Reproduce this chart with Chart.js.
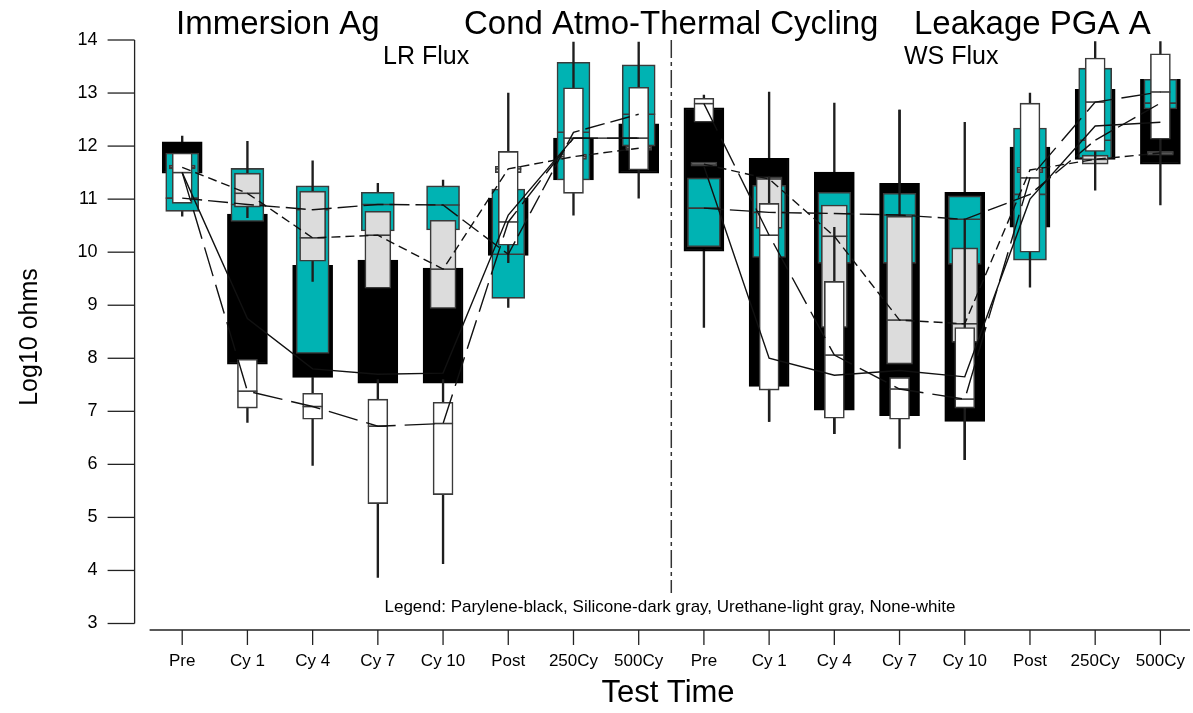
<!DOCTYPE html>
<html><head><meta charset="utf-8">
<script src="https://cdn.jsdelivr.net/npm/chart.js@4.4.1/dist/chart.umd.min.js"></script>
<style>html,body{margin:0;padding:0;background:#fff;}#wrap{width:1193px;height:713px;position:relative;}</style>
</head><body><div id="wrap"><canvas id="c"></canvas></div>
<script>
const categories = ['Pre','Cy 1','Cy 4','Cy 7','Cy 10','Post','250Cy','500Cy','Pre','Cy 1','Cy 4','Cy 7','Cy 10','Post','250Cy','500Cy'];
const yTicks = [3,4,5,6,7,8,9,10,11,12,13,14];

// Parylene (black)
const paryleneLow    = [11.49, 7.89, 7.64, 7.53, 7.53, 9.94, 11.36, 11.49, 10.02, 7.47, 7.02, 6.92, 6.81, 10.47, 11.75, 11.66];
const paryleneHigh   = [12.08,10.72, 9.75, 9.85, 9.70,11.02, 12.15, 12.42, 12.72,11.77,11.51,11.30,11.13, 11.98, 13.07, 13.26];
const paryleneMedian = [11.50, 8.75, 7.80, 7.70, 7.72,10.70, 12.15, 12.15, 11.62, 8.00, 7.68, 7.77, 7.65, 11.00, 12.38, 12.45];
const paryleneWhLow  = [10.68, null, null, null, null, null, null, null, 8.58, 6.81, 6.58, 6.30, 6.09, null, null, null];
const paryleneWhHigh = [12.19, null, null, null, null, null, null, null,12.96,13.02,12.81,12.68,12.45, null, null, null];

// Silicone (dark gray, drawn teal)
const siliconeLow    = [10.77,10.58, 8.09,10.40,10.42, 9.13, 11.36, 12.00, 10.10, 9.90, 9.79, 9.79, 9.77, 9.85, 11.77, 12.70];
const siliconeHigh   = [11.87,11.58,11.25,11.13,11.25,11.19, 13.58, 13.53, 11.40,11.26,11.13,11.11,11.06, 12.34, 13.47, 13.26];
const siliconeMedian = [11.02,10.90,10.80,10.90,10.89, 9.96, 12.26, 12.60, 10.83,10.75,10.73,10.70,10.62, 11.09, 12.11, 12.81];
const siliconeWhLow  = [null, null, null,10.90,10.90, 8.96, null, null, null, null, null, null, null, null, null, null];
const siliconeWhHigh = [null, null, null,11.30,11.36, 9.50, null, null, null, null, null, null, null, null, null, null];

// Urethane (light gray)
const urethaneLow    = [11.57,10.85, 9.83, 9.32, 8.94,11.50, 11.75, 11.92, 11.62,10.45, 8.58, 7.89, 8.30, 11.50, 11.66, 11.83];
const urethaneHigh   = [11.64,11.49,11.15,10.77,10.60,11.62, 11.85, 12.00, 11.70,11.42,10.89,10.68,10.08, 11.60, 11.83, 11.90];
const urethaneMedian = [11.60,11.11,10.27,10.32, 9.68,11.57, 11.80, 11.96, 11.66,11.38,10.30, 8.72, 8.65, 11.55, 11.75, 11.87];
const urethaneWhLow  = [null,10.65, 9.45, null, null, null, null, null, null, null, null,10.68, null, null, null, null];
const urethaneWhHigh = [null,12.09,11.72, null, null, null, null, null, null, null, null,12.68, null, null, null, null];

// None (white)
const noneLow    = [10.92, 7.06, 6.85, 5.26, 5.43,10.13, 11.11, 11.55, 12.45, 7.40, 6.87, 6.85, 7.06, 10.00, 11.90, 12.13];
const noneHigh   = [11.87, 7.98, 7.34, 7.23, 7.17,11.90, 13.10, 13.11, 12.90,10.92, 9.45, 7.64, 8.58, 12.81, 13.66, 13.74];
const noneMedian = [11.50, 7.38, 7.09, 6.72, 6.77,10.57, 12.15, 12.15, 12.80,10.32, 8.06, 7.42, 7.23, 11.40, 12.83, 13.02];
const noneWhLow  = [null, 6.79, 5.98, 3.87, 4.13, 9.80, 10.70, 11.02, null, 6.81, 6.58, null, 6.09, 9.34, 11.17, 10.89];
const noneWhHigh = [null, 7.98, 7.64, 7.60, 7.60,13.00, 13.96, 13.96, null,11.42,10.47, null,10.60, 13.00, 13.97, 13.97];

const FONT = '"Liberation Sans", Arial, Helvetica, sans-serif';

function pairs(lo, hi){ return lo.map((v,i)=> (v==null || hi[i]==null) ? null : [v, hi[i]]); }
function half(arr, part){ return arr.map((v,i)=> ((part===0) ? i<8 : i>=8) ? v : null); }

function boxDs(label, lo, hi, med, fill, border, thick, order, drawMedian){
  return {type:'bar', label, data:pairs(lo,hi), medians:med, drawMedian, backgroundColor:fill, borderColor:border,
    borderWidth:1.6, borderSkipped:false, barThickness:thick, grouped:false, order, isBox:true};
}
function whiskerDs(label, lo, hi, order){
  return {type:'bar', label, data:pairs(lo,hi), backgroundColor:'#1e1e1e', borderWidth:0, barThickness:1.7, grouped:false, order};
}
function lineDs(label, med, part, dash, order){
  return {type:'line', label, data:half(med,part), borderColor:'#111', borderWidth:1.4, borderDash:dash,
    pointRadius:0, pointHoverRadius:0, fill:false, tension:0, spanGaps:false, order};
}

const datasets = [
  whiskerDs('Parylene whisker', paryleneWhLow, paryleneWhHigh, 20),
  boxDs('Parylene', paryleneLow, paryleneHigh, paryleneMedian, '#000000', '#000000', 40, 19, false),
  whiskerDs('Silicone whisker', siliconeWhLow, siliconeWhHigh, 18),
  boxDs('Silicone', siliconeLow, siliconeHigh, siliconeMedian, '#00B3B3', '#3a3a3a', 33, 17, true),
  whiskerDs('Urethane whisker', urethaneWhLow, urethaneWhHigh, 16),
  boxDs('Urethane', urethaneLow, urethaneHigh, urethaneMedian, '#DCDCDC', '#3a3a3a', 26, 15, true),
  whiskerDs('None whisker', noneWhLow, noneWhHigh, 14),
  boxDs('None', noneLow, noneHigh, noneMedian, '#FFFFFF', '#3a3a3a', 20, 13, true),
  lineDs('Parylene LR', paryleneMedian, 0, [], 8),
  lineDs('Parylene WS', paryleneMedian, 1, [], 8),
  lineDs('Silicone LR', siliconeMedian, 0, [20,6], 7),
  lineDs('Silicone WS', siliconeMedian, 1, [20,6], 7),
  lineDs('Urethane LR', urethaneMedian, 0, [9,5], 6),
  lineDs('Urethane WS', urethaneMedian, 1, [9,5], 6),
  lineDs('None LR', noneMedian, 0, [30,9], 5),
  lineDs('None WS', noneMedian, 1, [30,9], 5)
];

const decor = {
  id:'decor',
  afterDatasetDraw(chart, args){
    const ds = chart.data.datasets[args.index];
    if (!ds.isBox || !ds.drawMedian) return;
    const ctx = chart.ctx, y = chart.scales.y;
    ctx.save();
    ctx.strokeStyle = ds.borderColor; ctx.lineWidth = 1.6;
    args.meta.data.forEach((el,i)=>{
      if (ds.data[i]==null || ds.medians[i]==null) return;
      const py = y.getPixelForValue(ds.medians[i]);
      ctx.beginPath(); ctx.moveTo(el.x - el.width/2, py); ctx.lineTo(el.x + el.width/2, py); ctx.stroke();
    });
    ctx.restore();
  },
  afterDraw(chart){
    const ctx = chart.ctx, a = chart.chartArea, xs = chart.scales.x, ys = chart.scales.y;
    ctx.save();
    ctx.strokeStyle = '#222'; ctx.lineWidth = 1.3; ctx.fillStyle = '#000';
    // y axis
    const ax = a.left - 15;
    ctx.beginPath(); ctx.moveTo(ax, ys.getPixelForValue(14)); ctx.lineTo(ax, ys.getPixelForValue(3)); ctx.stroke();
    yTicks.forEach(v=>{ const p = ys.getPixelForValue(v); ctx.beginPath(); ctx.moveTo(ax-27, p); ctx.lineTo(ax, p); ctx.stroke(); });
    // x axis
    const ay = a.bottom + 6.5;
    ctx.beginPath(); ctx.moveTo(a.left, ay); ctx.lineTo(a.right - 3, ay); ctx.stroke();
    categories.forEach((c,i)=>{ const p = xs.getPixelForValue(i); ctx.beginPath(); ctx.moveTo(p, ay); ctx.lineTo(p, ay+15); ctx.stroke(); });
    // separator
    const sx = (xs.getPixelForValue(7) + xs.getPixelForValue(8))/2;
    ctx.setLineDash([18,4,4,4]); ctx.strokeStyle = '#333'; ctx.lineWidth = 1.5;
    ctx.beginPath(); ctx.moveTo(sx, ys.getPixelForValue(14)); ctx.lineTo(sx, 593); ctx.stroke();
    ctx.setLineDash([]);
    // texts
    ctx.textBaseline = 'alphabetic'; ctx.textAlign = 'left';
    ctx.font = '33px ' + FONT;
    ctx.fillText('Immersion Ag', 176, 34);
    ctx.fillText('Cond Atmo-Thermal Cycling', 464, 34);
    ctx.fillText('Leakage PGA A', 914, 34);
    ctx.font = '25px ' + FONT;
    ctx.fillText('LR Flux', 383, 64);
    ctx.fillText('WS Flux', 904, 64);
    ctx.textAlign = 'center';
    ctx.font = '17px ' + FONT;
    ctx.fillText('Legend: Parylene-black, Silicone-dark gray, Urethane-light gray, None-white', 670, 612);
    ctx.font = '31px ' + FONT;
    ctx.fillText('Test Time', 668, 702);
    ctx.translate(37, 337); ctx.rotate(-Math.PI/2);
    ctx.font = '25px ' + FONT;
    ctx.fillText('Log10 ohms', 0, 0);
    ctx.restore();
  }
};

new Chart(document.getElementById('c'), {
  type:'bar',
  data:{ labels:categories, datasets },
  options:{
    responsive:true, maintainAspectRatio:false, animation:false,
    layout:{ padding:{ left:0, right:0, top:40, bottom:0 } },
    plugins:{ legend:{display:false}, tooltip:{enabled:false}, title:{display:false} },
    scales:{
      x:{ type:'category', offset:true,
          grid:{display:true, drawOnChartArea:false, drawTicks:true, tickLength:28, color:'rgba(0,0,0,0)'}, border:{display:false},
          ticks:{ font:{family:FONT, size:17}, color:'#000', padding:0, maxRotation:0, autoSkip:false },
          afterFit(s){ s.height = 89.5; } },
      y:{ min:3, max:14,
          grid:{display:true, drawOnChartArea:false, drawTicks:true, tickLength:52, color:'rgba(0,0,0,0)'}, border:{display:false},
          ticks:{ stepSize:1, font:{family:FONT, size:18}, color:'#000', padding:0 },
          afterFit(s){ s.width = 149.6; } }
    }
  },
  plugins:[decor]
});
</script></body></html>
